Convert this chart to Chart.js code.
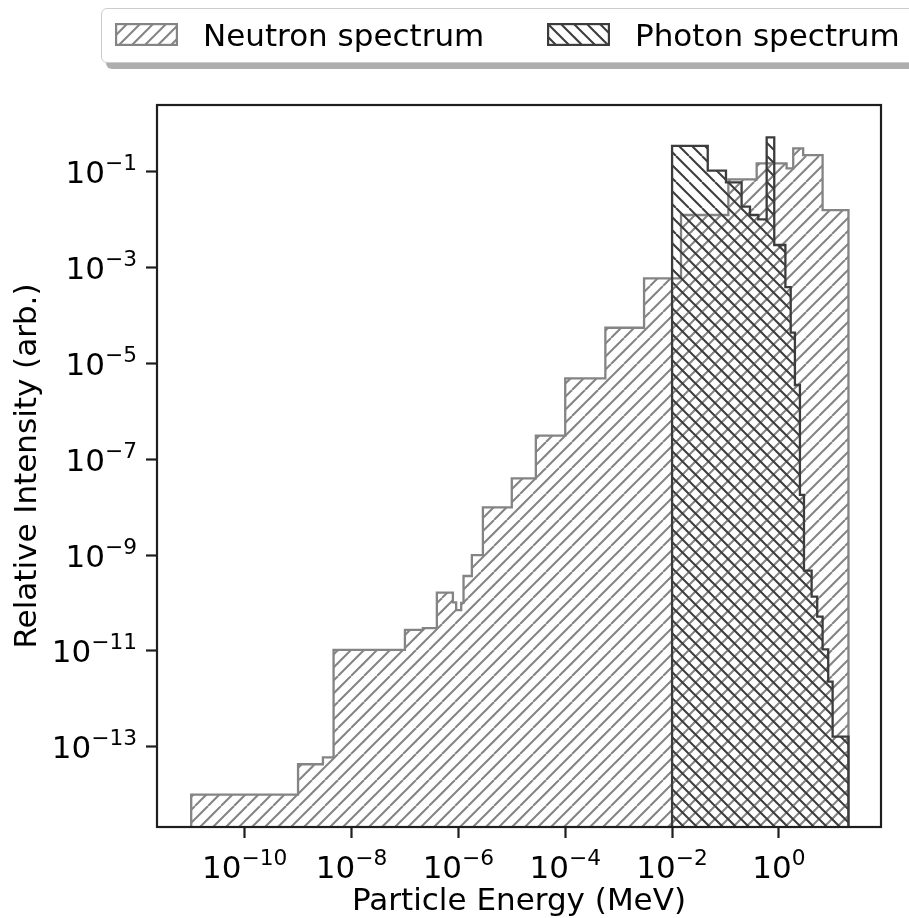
<!DOCTYPE html>
<html>
<head>
<meta charset="utf-8">
<script src="https://cdn.jsdelivr.net/npm/chart.js@4.4.0/dist/chart.umd.min.js"></script>
<style>
html,body{margin:0;padding:0;background:#fff;overflow:hidden}
#wrap{position:relative;width:909px;height:918px;overflow:hidden;font-family:"DejaVu Sans",sans-serif}
#c{position:absolute;left:0;top:0}
#legend{position:absolute;left:101px;top:8px;width:860px;height:53px;border:1.2px solid #cccccc;border-radius:6px;background:#fff;box-shadow:5px 6px 0 rgba(140,140,140,0.7)}
.lt{position:absolute;font-size:31px;line-height:31px;color:#000;white-space:nowrap}
.lp{position:absolute}
</style>
</head>
<body>
<div id="wrap">
<canvas id="c" width="909" height="918"></canvas>
<div id="legend"></div>
<canvas class="lp" id="lp1" width="63" height="23" style="left:115px;top:23px"></canvas>
<div class="lt" style="left:203px;top:20px">Neutron spectrum</div>
<canvas class="lp" id="lp2" width="63" height="23" style="left:547px;top:23px"></canvas>
<div class="lt" style="left:635px;top:20px">Photon spectrum</div>
</div>
<script>
// ---- data (energies in MeV, intensities arbitrary) ----
const neutronEdges = [1e-11, 1e-9, 2.92e-9, 4.62e-9, 1e-7, 2.17e-7, 3.96e-7, 7.9e-7, 9.1e-7,
  1.13e-6, 1.25e-6, 1.79e-6, 2.88e-6, 1e-5, 2.82e-5, 1e-4, 5.64e-4, 2.99e-3, 1.47e-2,
  0.113, 0.383, 1.39, 1.85, 2.84, 6.56, 20];
const neutronValues = [1e-14, 4.3e-14, 6.0e-14, 1.05e-11, 2.75e-11, 3.0e-11, 1.64e-10, 1.03e-10,
  7.1e-11, 1.01e-10, 3.66e-10, 1.0e-9, 9.95e-9, 4.0e-8, 3.11e-7, 4.9e-6, 5.58e-5, 6.0e-4,
  1.26e-2, 7.0e-2, 0.151, 0.119, 0.311, 0.225, 1.6e-2];
const photonEdges = [0.01, 0.0465, 0.102, 0.2, 0.287, 0.41, 0.589, 0.817, 1.32, 1.66, 1.99,
  2.47, 2.94, 4.09, 5.2, 6.56, 8.36, 10.1, 20];
const photonValues = [0.348, 0.106, 0.0607, 0.0188, 0.0126, 0.0102, 0.527, 2.98e-3, 3.95e-4,
  4.4e-5, 3.56e-6, 1.8e-8, 4.72e-10, 1.36e-10, 5.18e-11, 1.08e-11, 2.28e-12, 1.62e-13];
const xTickExps = [-10, -8, -6, -4, -2, 0];
const yTickExps = [-13, -11, -9, -7, -5, -3, -1];
const seriesNames = ['Neutron spectrum', 'Photon spectrum'];
const xTitle = 'Particle Energy (MeV)';
const yTitle = 'Relative Intensity (arb.)';

const NEU_COLOR = '#848484';
const PHO_COLOR = '#3c3c3c';
const FLOOR = 1e-22;

function stepPoints(edges, vals) {
  const pts = [{x: edges[0], y: FLOOR}];
  for (let i = 0; i < vals.length; i++) {
    pts.push({x: edges[i], y: vals[i]});
    pts.push({x: edges[i + 1], y: vals[i]});
  }
  pts.push({x: edges[edges.length - 1], y: FLOOR});
  return pts;
}

function hatch(color, dir) {
  const S = 26, n = 2, d = S / n;
  const c = document.createElement('canvas');
  c.width = S; c.height = S;
  const g = c.getContext('2d');
  g.strokeStyle = color; g.lineWidth = 2.0;
  for (let k = -n - 1; k <= n + 1; k++) {
    g.beginPath();
    if (dir === '/') { g.moveTo(k * d, S); g.lineTo(k * d + S, 0); }
    else { g.moveTo(k * d, 0); g.lineTo(k * d + S, S); }
    g.stroke();
  }
  return c;
}
const neuTile = hatch(NEU_COLOR, '/');
const phoTile = hatch(PHO_COLOR, '\\');

function drawPatch(id, tile, edge) {
  const cv = document.getElementById(id), g = cv.getContext('2d');
  g.fillStyle = g.createPattern(tile, 'repeat');
  g.fillRect(0, 0, cv.width, cv.height);
  g.strokeStyle = edge; g.lineWidth = 2.2;
  g.strokeRect(1.1, 1.1, cv.width - 2.2, cv.height - 2.2);
}
drawPatch('lp1', neuTile, NEU_COLOR);
drawPatch('lp2', phoTile, PHO_COLOR);

const ctx0 = document.getElementById('c').getContext('2d');
const neuPattern = ctx0.createPattern(neuTile, 'repeat');
const phoPattern = ctx0.createPattern(phoTile, 'repeat');

const FS = 31, SFS = 21.7, RAISE = 13;
function supText(e) { return (e < 0 ? '\u2212' : '') + Math.abs(e); }

const mplPlugin = {
  id: 'mpl',
  afterDraw(chart) {
    const ctx = chart.ctx, xs = chart.scales.x, ys = chart.scales.y, a = chart.chartArea;
    ctx.save();
    // frame
    ctx.strokeStyle = '#1e1e1e'; ctx.lineWidth = 2.2;
    ctx.strokeRect(a.left, a.top, a.right - a.left, a.bottom - a.top);
    ctx.fillStyle = '#000';
    ctx.textAlign = 'left'; ctx.textBaseline = 'alphabetic';
    const bf = FS + 'px "DejaVu Sans"', sf = SFS + 'px "DejaVu Sans"';
    xTickExps.forEach(e => {
      const px = xs.getPixelForValue(Math.pow(10, e));
      const s = supText(e);
      ctx.font = bf; const w1 = ctx.measureText('10').width;
      ctx.font = sf; const w2 = ctx.measureText(s).width;
      const x0 = px - (w1 + w2) / 2, base = 878;
      ctx.font = bf; ctx.fillText('10', x0, base);
      ctx.font = sf; ctx.fillText(s, x0 + w1, base - RAISE);
    });
    yTickExps.forEach(e => {
      const py = ys.getPixelForValue(Math.pow(10, e));
      const s = supText(e);
      ctx.font = bf; const w1 = ctx.measureText('10').width;
      ctx.font = sf; const w2 = ctx.measureText(s).width;
      const xr = 137, base = py + 11.5;
      const x0 = xr - w1 - w2;
      ctx.font = bf; ctx.fillText('10', x0, base);
      ctx.font = sf; ctx.fillText(s, x0 + w1, base - RAISE);
    });
    ctx.restore();
  }
};

new Chart(document.getElementById('c'), {
  type: 'line',
  data: {
    datasets: [
      {label: seriesNames[1], data: stepPoints(photonEdges, photonValues), order: 0,
       borderColor: PHO_COLOR, borderWidth: 2.3, backgroundColor: phoPattern, fill: 'start',
       pointRadius: 0, tension: 0, borderJoinStyle: 'miter'},
      {label: seriesNames[0], data: stepPoints(neutronEdges, neutronValues), order: 1,
       borderColor: NEU_COLOR, borderWidth: 2.3, backgroundColor: neuPattern, fill: 'start',
       pointRadius: 0, tension: 0, borderJoinStyle: 'miter'}
    ]
  },
  options: {
    responsive: false, animation: false, devicePixelRatio: 1,
    layout: {padding: {top: 105, right: 28, left: 0, bottom: 0}},
    plugins: {legend: {display: false}, tooltip: {enabled: false}},
    scales: {
      x: {
        type: 'logarithmic', bounds: 'data',
        min: Math.pow(10, -11.64), max: Math.pow(10, 1.91),
        afterFit(s) { s.height = 91; },
        afterBuildTicks(s) { s.ticks = xTickExps.map(e => ({value: Math.pow(10, e)})); },
        ticks: {display: false},
        grid: {display: true, drawOnChartArea: false, drawTicks: true, tickLength: 11,
               tickWidth: 2.2, tickColor: '#1e1e1e'},
        border: {display: false},
        title: {display: true, text: xTitle, color: '#000',
                font: {family: 'DejaVu Sans', size: 31, lineHeight: 1}, padding: {top: 0, bottom: 0.5}}
      },
      y: {
        type: 'logarithmic', bounds: 'data',
        min: Math.pow(10, -14.677), max: Math.pow(10, 0.397),
        afterFit(s) { s.width = 157; },
        afterBuildTicks(s) { s.ticks = yTickExps.map(e => ({value: Math.pow(10, e)})); },
        ticks: {display: false},
        grid: {display: true, drawOnChartArea: false, drawTicks: true, tickLength: 11,
               tickWidth: 2.2, tickColor: '#1e1e1e'},
        border: {display: false},
        title: {display: true, text: yTitle, color: '#000',
                font: {family: 'DejaVu Sans', size: 31, lineHeight: 1}, padding: {top: 12.3, bottom: 0}}
      }
    }
  },
  plugins: [mplPlugin]
});
</script>
</body>
</html>
